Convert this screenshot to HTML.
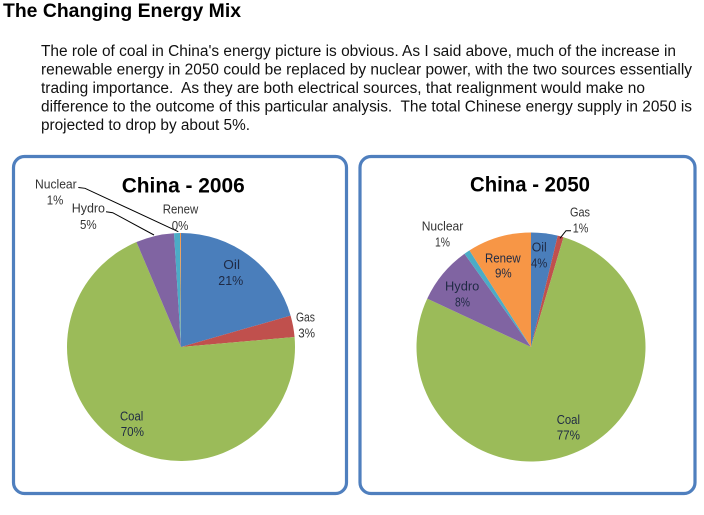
<!DOCTYPE html>
<html>
<head>
<meta charset="utf-8">
<style>
html,body{margin:0;padding:0;background:#fff;}
svg{display:block;}
text{white-space:pre;}
</style>
</head>
<body>
<svg width="704" height="515" viewBox="0 0 704 515" xmlns="http://www.w3.org/2000/svg">
<rect x="0" y="0" width="704" height="515" fill="#ffffff"/>

<!-- Header -->
<text x="3" y="17" font-family="Liberation Sans, Arial, sans-serif" font-weight="bold" font-size="19" fill="#000" textLength="238" lengthAdjust="spacingAndGlyphs">The Changing Energy Mix</text>

<g font-family="Liberation Sans, Arial, sans-serif" font-size="15.3" fill="#111">
<text x="41" y="56" textLength="635" lengthAdjust="spacingAndGlyphs">The role of coal in China's energy picture is obvious. As I said above, much of the increase in</text>
<text x="41" y="74.5" textLength="651" lengthAdjust="spacingAndGlyphs">renewable energy in 2050 could be replaced by nuclear power, with the two sources essentially</text>
<text x="41" y="93" textLength="604" lengthAdjust="spacingAndGlyphs">trading importance.  As they are both electrical sources, that realignment would make no</text>
<text x="41" y="111.5" textLength="651" lengthAdjust="spacingAndGlyphs">difference to the outcome of this particular analysis.  The total Chinese energy supply in 2050 is</text>
<text x="41" y="130" textLength="209" lengthAdjust="spacingAndGlyphs">projected to drop by about 5%.</text>
</g>

<!-- Panel boxes -->
<rect x="13.5" y="156.5" width="333" height="337" rx="11" ry="11" fill="#fff" stroke="#4f7fbe" stroke-width="3.2"/>
<rect x="360" y="156.5" width="335" height="337" rx="11" ry="11" fill="#fff" stroke="#4f7fbe" stroke-width="3.2"/>

<!-- Pie 2006 -->
<g>
<path d="M181,347 L181,233 A114,114 0 0 1 290.59,315.58 Z" fill="#4a7ebb"/>
<path d="M181,347 L290.59,315.58 A114,114 0 0 1 294.57,337.06 Z" fill="#c0504d"/>
<path d="M181,347 L294.57,337.06 A114,114 0 1 1 136.46,242.06 Z" fill="#9bbb59"/>
<path d="M181,347 L136.46,242.06 A114,114 0 0 1 174.04,233.21 Z" fill="#8064a2"/>
<path d="M181,347 L174.04,233.21 A114,114 0 0 1 180.01,233 Z" fill="#4bacc6"/>
<path d="M181,347 L180.01,233 A114,114 0 0 1 181,233 Z" fill="#f79646"/>
</g>

<!-- Pie 2050 -->
<g>
<path d="M531,347 L531,232.5 A114.5,114.5 0 0 1 557.73,235.66 Z" fill="#4a7ebb"/>
<path d="M531,347 L557.73,235.66 A114.5,114.5 0 0 1 563.52,237.22 Z" fill="#c0504d"/>
<path d="M531,347 L563.52,237.22 A114.5,114.5 0 1 1 427.23,298.61 Z" fill="#9bbb59"/>
<path d="M531,347 L427.23,298.61 A114.5,114.5 0 0 1 464.51,253.78 Z" fill="#8064a2"/>
<path d="M531,347 L464.51,253.78 A114.5,114.5 0 0 1 469.48,250.43 Z" fill="#4bacc6"/>
<path d="M531,347 L469.48,250.43 A114.5,114.5 0 0 1 531,232.5 Z" fill="#f79646"/>
</g>

<!-- Chart titles -->
<text x="121.7" y="192.3" font-family="Liberation Sans, Arial, sans-serif" font-weight="bold" font-size="21" fill="#000" textLength="123" lengthAdjust="spacingAndGlyphs">China - 2006</text>
<text x="470" y="191.7" font-family="Liberation Sans, Arial, sans-serif" font-weight="bold" font-size="21" fill="#000" textLength="120" lengthAdjust="spacingAndGlyphs">China - 2050</text>

<!-- Leader lines -->
<g stroke="#000" stroke-width="1" fill="none">
<polyline points="78.3,187.5 85,188.3 178.3,231.7"/>
<polyline points="106,211.8 112.7,212.7 154,235"/>
<polyline points="571,230.7 566,230.7 560,238.3"/>
</g>

<!-- Labels 2006 -->
<g font-family="Liberation Sans, Arial, sans-serif" font-size="12.5" fill="#333">
<text x="35" y="188.3" textLength="41.7" lengthAdjust="spacingAndGlyphs">Nuclear</text>
<text x="46.7" y="204.3" textLength="16.6" lengthAdjust="spacingAndGlyphs">1%</text>
<text x="71.7" y="212.7" textLength="33.3" lengthAdjust="spacingAndGlyphs">Hydro</text>
<text x="80" y="229" textLength="16.7" lengthAdjust="spacingAndGlyphs">5%</text>
<text x="162.7" y="213.5" textLength="35.6" lengthAdjust="spacingAndGlyphs">Renew</text>
<text x="171.7" y="230" textLength="16.6" lengthAdjust="spacingAndGlyphs">0%</text>
<text x="296" y="321.7" textLength="19" lengthAdjust="spacingAndGlyphs">Gas</text>
<text x="298.3" y="337.7" textLength="16.7" lengthAdjust="spacingAndGlyphs">3%</text>
</g>
<g font-family="Liberation Sans, Arial, sans-serif" font-size="12.5" fill="#1f2a44">
<text x="223.3" y="269" textLength="16.7" lengthAdjust="spacingAndGlyphs">Oil</text>
<text x="218.3" y="285" textLength="25" lengthAdjust="spacingAndGlyphs">21%</text>
<text x="120" y="420.7" textLength="23.3" lengthAdjust="spacingAndGlyphs">Coal</text>
<text x="120.7" y="436" textLength="23.3" lengthAdjust="spacingAndGlyphs">70%</text>
</g>

<!-- Labels 2050 -->
<g font-family="Liberation Sans, Arial, sans-serif" font-size="12.5" fill="#333">
<text x="570" y="216.5" textLength="20" lengthAdjust="spacingAndGlyphs">Gas</text>
<text x="572.7" y="232.7" textLength="15.6" lengthAdjust="spacingAndGlyphs">1%</text>
<text x="421.7" y="230.7" textLength="41.6" lengthAdjust="spacingAndGlyphs">Nuclear</text>
<text x="435" y="246.7" textLength="15" lengthAdjust="spacingAndGlyphs">1%</text>
</g>
<g font-family="Liberation Sans, Arial, sans-serif" font-size="12.5" fill="#1f2a44">
<text x="485" y="262.7" textLength="35.7" lengthAdjust="spacingAndGlyphs">Renew</text>
<text x="495" y="277.3" textLength="16.7" lengthAdjust="spacingAndGlyphs">9%</text>
<text x="531.7" y="251.7" textLength="15" lengthAdjust="spacingAndGlyphs">Oil</text>
<text x="531" y="267.7" textLength="16.3" lengthAdjust="spacingAndGlyphs">4%</text>
<text x="445" y="290.5" textLength="34.3" lengthAdjust="spacingAndGlyphs">Hydro</text>
<text x="455" y="306.7" textLength="15" lengthAdjust="spacingAndGlyphs">8%</text>
<text x="556.7" y="424" textLength="23.3" lengthAdjust="spacingAndGlyphs">Coal</text>
<text x="556.7" y="439.3" textLength="23.3" lengthAdjust="spacingAndGlyphs">77%</text>
</g>
</svg>
</body>
</html>
